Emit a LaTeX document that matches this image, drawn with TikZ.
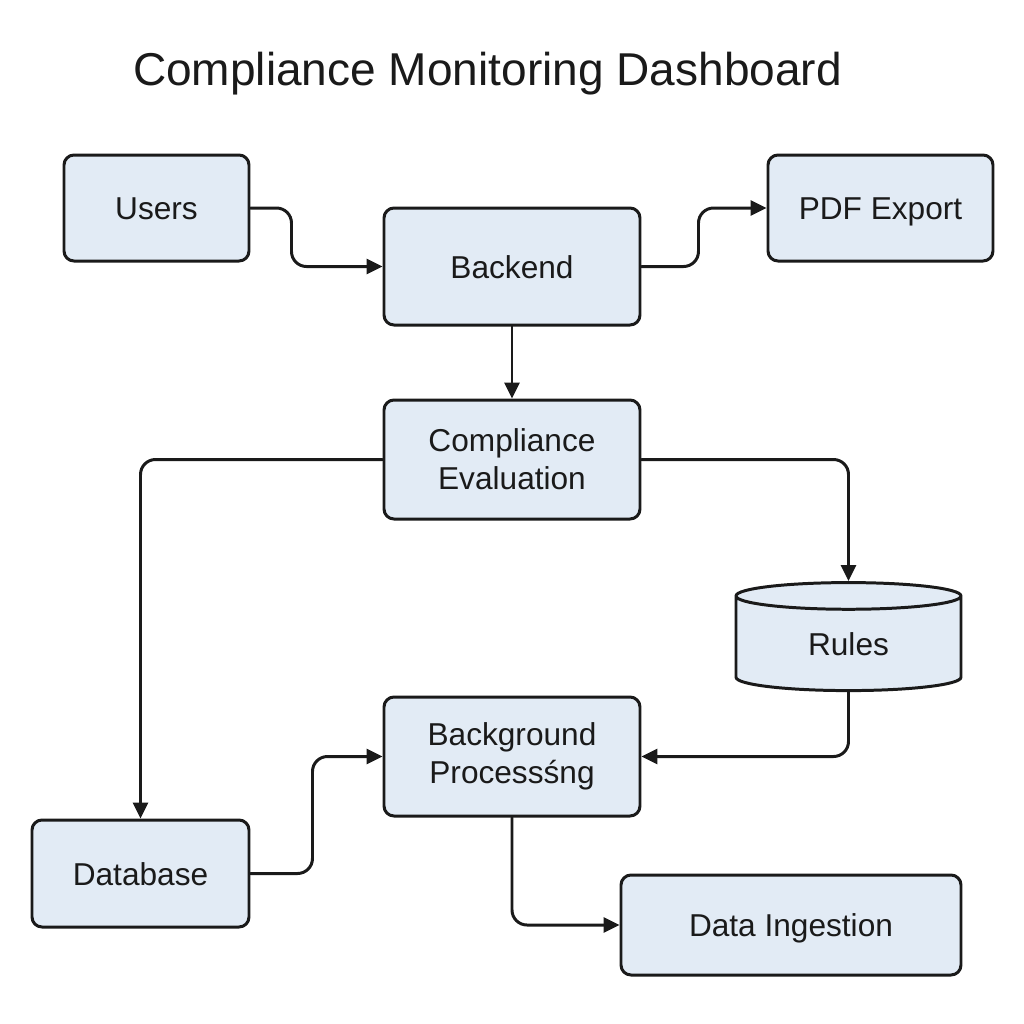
\documentclass[tikz,border=0pt]{standalone}
\usepackage{fontspec}
\setmainfont{Liberation Sans}
\usetikzlibrary{shapes.geometric, arrows.meta}
\definecolor{boxfill}{HTML}{E2EBF5}
\definecolor{ink}{HTML}{1A1A1A}

\begin{document}
\begin{tikzpicture}[line cap=round, line join=round,
	box/.style={draw=ink, fill=boxfill, line width=0.85pt, rounded corners=0.1cm, align=center, font=\fontsize{9}{10}\selectfont, text=ink, inner sep=0pt},
	solo/.style={text height=6.8pt, text depth=0pt},
	store/.style={draw=ink, fill=boxfill, line width=0.85pt, cylinder, shape border rotate=90, aspect=0.33, font=\fontsize{9}{10}\selectfont, text=ink, inner sep=0pt},
	link/.style={draw=ink, line width=0.85pt, rounded corners=0.15cm, -{Triangle[length=1.6mm, width=1.5mm]}}]
	
	%Frame
	\useasboundingbox[fill=white] (0,0) rectangle (10.24,-10.24);
	
	%Title
	\node[font=\fontsize{13.1}{15}\selectfont, text=ink] (title) at (4.875,-0.74) {Compliance Monitoring Dashboard};
	
	%Nodes
	\node[box, solo, minimum width=1.85cm, minimum height=1.06cm] (users) at (1.565,-2.08) {Users};
	\node[box, solo, minimum width=2.56cm, minimum height=1.17cm] (backend) at (5.12,-2.665) {Backend};
	\node[box, solo, minimum width=2.25cm, minimum height=1.06cm] (pdf) at (8.805,-2.08) {PDF Export};
	\node[box, minimum width=2.56cm, minimum height=1.19cm] (compliance) at (5.12,-4.595) {Compliance\\[0.3mm]Evaluation};
	\node[store, minimum width=2.25cm, minimum height=1.08cm] (rules) at (8.485,-6.44) {\raisebox{-0.8mm}{Rules}};
	\node[box, minimum width=2.56cm, minimum height=1.19cm] (background) at (5.12,-7.565) {Background\\[0.3mm]Processśng};
	\node[box, solo, minimum width=2.17cm, minimum height=1.07cm] (database) at (1.405,-8.735) {Database};
	\node[box, solo, minimum width=3.40cm, minimum height=1.00cm] (ingest) at (7.91,-9.25) {Data Ingestion};
	
	%Lines
	\draw[link] (users.east) -- ++(0.41,0) |- (backend.west);
	\draw[link] (backend.east) -- ++(0.57,0) |- (pdf.west);
	\draw[link] (backend) -- (compliance);
	\draw[link] (compliance.west) -| (database.north);
	\draw[link] (compliance.east) -| (rules.north);
	\draw[link] (rules.south) |- (background.east);
	\draw[link] (database.east) -- ++(0.62,0) |- (background.west);
	\draw[link] (background.south) |- (ingest.west);
	
\end{tikzpicture}
\end{document}
